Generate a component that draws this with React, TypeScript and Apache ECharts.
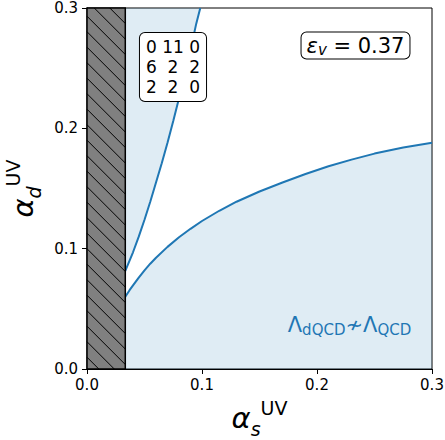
import React, { useEffect, useRef } from "react";
import * as echarts from "echarts";

const axisMin = 0;
const axisMax = 0.3;
const tickStep = 0.1;
const excludedX = [0, 0.0333];
const upperX = [0.0333, 0.04, 0.045, 0.05, 0.055, 0.06, 0.065, 0.07, 0.075, 0.08, 0.085, 0.09, 0.095, 0.0985];
const upperY = [0.0816, 0.097, 0.11, 0.124, 0.139, 0.155, 0.171, 0.188, 0.206, 0.225, 0.245, 0.265, 0.287, 0.3];
const lowerX = [0.0333, 0.037, 0.04, 0.045, 0.05, 0.055, 0.06, 0.07, 0.08, 0.09, 0.1, 0.115, 0.13, 0.15, 0.17, 0.19, 0.21, 0.23, 0.25, 0.275, 0.3];
const lowerY = [0.06, 0.0655, 0.0695, 0.076, 0.082, 0.0875, 0.0925, 0.1015, 0.1095, 0.1165, 0.123, 0.1315, 0.139, 0.1475, 0.155, 0.162, 0.1685, 0.174, 0.179, 0.184, 0.188];
const matrixRows = ["0 11 0", "6  2  2", "2  2  0"];
const epsilonValue = "0.37";

const FONT = "DejaVu Sans";
const BLUE = "#1f77b4";
const FILL = "rgba(31,119,180,0.2)";

export default function App() {
  const ref = useRef<HTMLDivElement>(null);
  useEffect(() => {
    if (!ref.current) return;
    const chart = echarts.init(ref.current, null, { renderer: "svg" });
    const nameRich = {
      a: { fontSize: 29, fontStyle: "italic", fontFamily: FONT, lineHeight: 40, verticalAlign: "middle", color: "#000" },
      s: { fontSize: 19, fontStyle: "italic", fontFamily: FONT, lineHeight: 24, verticalAlign: "bottom", color: "#000" },
      u: { fontSize: 19, fontFamily: FONT, lineHeight: 18, verticalAlign: "top", color: "#000" },
    };
    const option: any = {
      animation: false,
      grid: {
        left: 87, right: 13, top: 8, bottom: 71, show: true, borderColor: "#000", borderWidth: 1,
        backgroundColor: "transparent", containLabel: false, outerBoundsMode: "none",
      },
      xAxis: {
        type: "value", min: axisMin, max: axisMax, interval: tickStep,
        name: "{a|α}{s|s}{u|UV}", nameLocation: "middle", nameGap: 29,
        nameTextStyle: { rich: nameRich },
        axisLine: { show: true, onZero: false, lineStyle: { color: "#000", width: 1 } },
        axisTick: { show: true, inside: false, length: 5, lineStyle: { color: "#000", width: 1 } },
        axisLabel: { fontSize: 15, fontFamily: FONT, color: "#000", margin: 8, formatter: (v: number) => v.toFixed(1) },
        splitLine: { show: false },
      },
      yAxis: {
        type: "value", min: axisMin, max: axisMax, interval: tickStep,
        name: "{a|α}{s|d}{u|UV}", nameLocation: "middle", nameGap: 38,
        nameTextStyle: { rich: nameRich },
        axisLine: { show: true, onZero: false, lineStyle: { color: "#000", width: 1 } },
        axisTick: { show: true, inside: false, length: 5, lineStyle: { color: "#000", width: 1 } },
        axisLabel: { fontSize: 15, fontFamily: FONT, color: "#000", margin: 9, formatter: (v: number) => v.toFixed(1) },
        splitLine: { show: false },
      },
      series: [
        {
          type: "line", data: lowerX.map((x, i) => [x, lowerY[i]]), showSymbol: false, symbol: "none", smooth: false,
          lineStyle: { color: BLUE, width: 2 }, areaStyle: { color: FILL, origin: "start" }, z: 2,
        },
        {
          type: "line", data: upperX.map((x, i) => [x, upperY[i]]), showSymbol: false, symbol: "none", smooth: false,
          lineStyle: { color: BLUE, width: 2 }, areaStyle: { color: FILL, origin: "end" }, z: 2,
        },
        {
          type: "custom", z: 5, data: [[excludedX[0], excludedX[1]]],
          renderItem: (params: any, api: any) => {
            const p0 = api.coord([api.value(0), axisMax]);
            const p1 = api.coord([api.value(1), axisMin]);
            const x0 = p0[0], y0 = p0[1], x1 = p1[0], y1 = p1[1];
            const children: any[] = [
              { type: "rect", shape: { x: x0, y: y0, width: x1 - x0, height: y1 - y0 }, style: { fill: "#808080", stroke: null } },
            ];
            const s = 15.5;
            for (let c = y0 - x1 - s * 2; c < y1 - x0 + s; c += s) {
              const xa = Math.max(x0, y0 - c);
              const xb = Math.min(x1, y1 - c);
              if (xa < xb) {
                children.push({ type: "line", shape: { x1: xa, y1: xa + c, x2: xb, y2: xb + c }, style: { stroke: "#000", lineWidth: 1 } });
              }
            }
            children.push({ type: "rect", shape: { x: x0, y: y0, width: x1 - x0, height: y1 - y0 }, style: { fill: null, stroke: "#000", lineWidth: 1.5 } });
            return { type: "group", children };
          },
        },
      ],
      graphic: [
        {
          type: "text", x: 173, y: 67, z: 10,
          style: {
            text: matrixRows.join("\n"), font: `17px "${FONT}"`, fill: "#000", align: "center", verticalAlign: "middle",
            lineHeight: 20, backgroundColor: "#fff", borderColor: "#000", borderWidth: 1, borderRadius: 5, padding: [4, 6, 4, 6],
          },
        },
        {
          type: "text", x: 355.5, y: 45.5, z: 10,
          style: {
            text: `{e|ε}{v|v}{n| = ${epsilonValue}}`, align: "center", verticalAlign: "middle",
            backgroundColor: "#fff", borderColor: "#000", borderWidth: 1, borderRadius: 5, padding: [1, 5, 1, 5],
            rich: {
              e: { fontSize: 21, fontStyle: "italic", fontFamily: FONT, lineHeight: 24, verticalAlign: "middle", fill: "#000" },
              v: { fontSize: 15, fontStyle: "italic", fontFamily: FONT, lineHeight: 14, verticalAlign: "bottom", fill: "#000" },
              n: { fontSize: 21, fontFamily: FONT, lineHeight: 24, verticalAlign: "middle", fill: "#000" },
            },
          },
        },
        {
          type: "text", x: 349.5, y: 325, z: 10,
          style: {
            text: "{m|Λ}{s|dQCD}{m|≁Λ}{s|QCD}", align: "center", verticalAlign: "middle",
            rich: {
              m: { fontSize: 21, fontFamily: FONT, lineHeight: 24, verticalAlign: "middle", fill: BLUE },
              s: { fontSize: 15, fontFamily: FONT, lineHeight: 14, verticalAlign: "bottom", fill: BLUE },
            },
          },
        },
      ],
    };
    chart.setOption(option);
    return () => chart.dispose();
  }, []);
  return <div ref={ref} style={{ position: "absolute", left: 0, top: 0, width: 445, height: 440 }} />;
}
